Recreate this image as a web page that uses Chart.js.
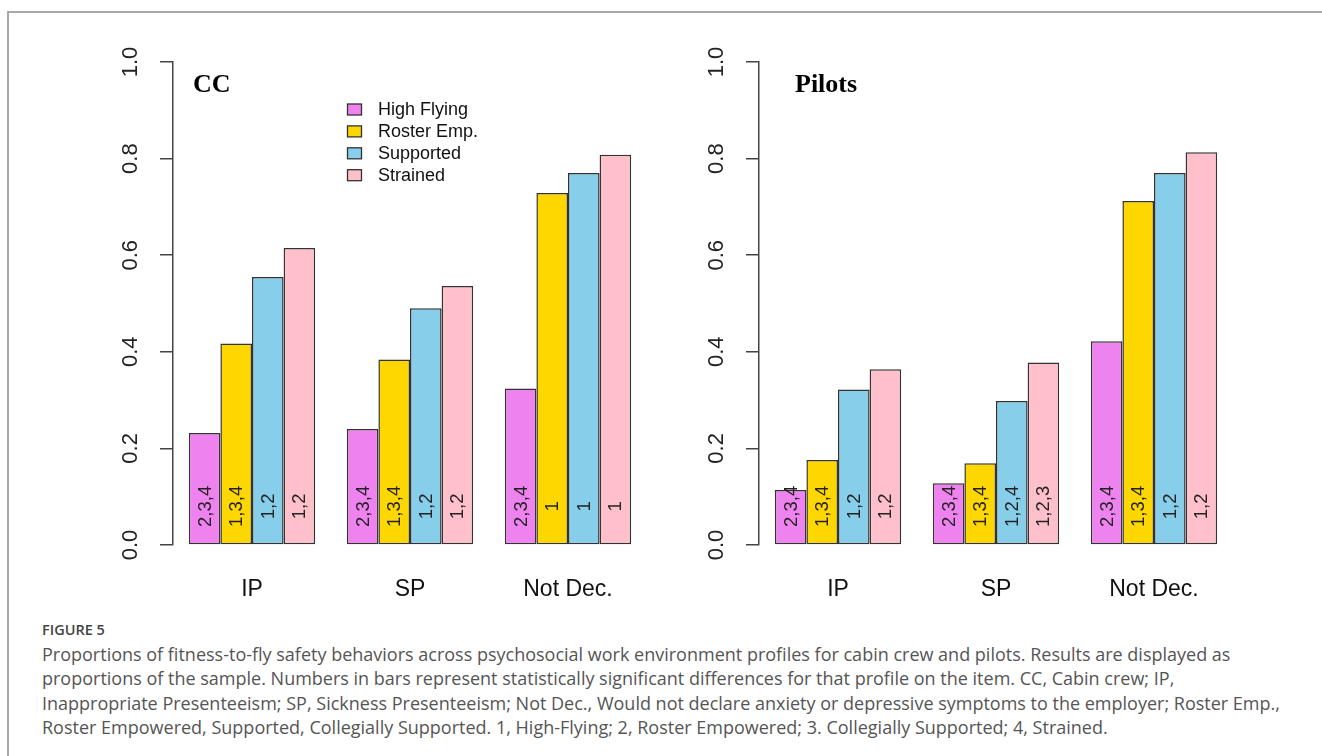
<!DOCTYPE html>
<html>
<head>
<meta charset="utf-8">
<script src="https://cdn.jsdelivr.net/npm/chart.js@4.4.1/dist/chart.umd.min.js"></script>
<style>
  html, body { margin: 0; padding: 0; background: #fff; width: 1322px; height: 756px; overflow: hidden; }
  #frame { position: absolute; left: 7px; top: 11px; width: 1400px; height: 800px;
           border-top: 2px solid #a8a8a8; border-left: 2px solid #a8a8a8; }
  .panel { position: absolute; top: 0; }
  #ccChart { left: 0; }
  #pilotChart { left: 586px; }
  #caption { position: absolute; left: 42px; top: 620px; font-family: "Open Sans", "Noto Sans", sans-serif;
             color: #555; white-space: nowrap; }
  #caption .fig { font-size: 14.5px; font-weight: 600; color: #444; line-height: 20px; margin-bottom: 2px; }
  #caption .line { font-size: 18px; line-height: 24.3px; }
</style>
</head>
<body>
<div id="frame"></div>
<canvas id="ccChart" class="panel" width="680" height="610"></canvas>
<canvas id="pilotChart" class="panel" width="680" height="610"></canvas>
<div id="caption">
  <div class="fig">FIGURE 5</div>
  <div class="line">Proportions of fitness-to-fly safety behaviors across psychosocial work environment profiles for cabin crew and pilots. Results are displayed as</div>
  <div class="line">proportions of the sample. Numbers in bars represent statistically significant differences for that profile on the item. CC, Cabin crew; IP,</div>
  <div class="line">Inappropriate Presenteeism; SP, Sickness Presenteeism; Not Dec., Would not declare anxiety or depressive symptoms to the employer; Roster Emp.,</div>
  <div class="line">Roster Empowered, Supported, Collegially Supported. 1, High-Flying; 2, Roster Empowered; 3. Collegially Supported; 4, Strained.</div>
</div>
<script>
// categories and profiles
var categories = ['IP', 'SP', 'Not Dec.'];
var profiles = ['High Flying', 'Roster Emp.', 'Supported', 'Strained'];
var profileColors = ['#EE82EE', '#FFD700', '#87CEEB', '#FFC0CB'];
var yTicks = [0, 0.2, 0.4, 0.6, 0.8, 1.0];

// cabin crew proportions
var ccHighFlying = [0.232, 0.240, 0.324];
var ccRosterEmp = [0.417, 0.384, 0.729];
var ccSupported = [0.555, 0.490, 0.770];
var ccStrained = [0.615, 0.536, 0.808];

// cabin crew significance labels
var ccHighFlyingSig = ['2,3,4', '2,3,4', '2,3,4'];
var ccRosterEmpSig = ['1,3,4', '1,3,4', '1'];
var ccSupportedSig = ['1,2', '1,2', '1'];
var ccStrainedSig = ['1,2', '1,2', '1'];

// pilots proportions
var plHighFlying = [0.114, 0.128, 0.422];
var plRosterEmp = [0.176, 0.169, 0.712];
var plSupported = [0.322, 0.298, 0.770];
var plStrained = [0.364, 0.378, 0.813];

// pilots significance labels
var plHighFlyingSig = ['2,3,4', '2,3,4', '2,3,4'];
var plRosterEmpSig = ['1,3,4', '1,3,4', '1,3,4'];
var plSupportedSig = ['1,2', '1,2,4', '1,2'];
var plStrainedSig = ['1,2', '1,2,3', '1,2'];

var SANS = "'Liberation Sans', Arial, sans-serif";

// numbers written inside the bars, rotated like R's srt=90
var barLabelPlugin = {
    id: 'barLabels',
    afterDatasetsDraw: function (chart) {
        var ctx = chart.ctx;
        var y = chart.scales.y.getPixelForValue(0.08);
        chart.data.datasets.forEach(function (ds, i) {
            chart.getDatasetMeta(i).data.forEach(function (bar, j) {
                ctx.save();
                ctx.translate(bar.x, y);
                ctx.rotate(-Math.PI / 2);
                ctx.font = '18.5px ' + SANS;
                ctx.fillStyle = '#222';
                ctx.textAlign = 'center';
                ctx.textBaseline = 'middle';
                ctx.fillText(ds.sig[j], 0, 1);
                ctx.restore();
            });
        });
    }
};

// panel title and the R-style legend
var panelDecor = {
    id: 'panelDecor',
    afterDraw: function (chart) {
        var o = chart.options.plugins.panelDecor;
        var ctx = chart.ctx;
        ctx.save();
        ctx.font = 'bold 26px "Liberation Serif", "Times New Roman", serif';
        ctx.fillStyle = '#000';
        ctx.textBaseline = 'alphabetic';
        ctx.fillText(o.title, o.titleX, 92);
        if (o.legend) {
            ctx.font = '18px ' + SANS;
            ctx.textBaseline = 'middle';
            chart.data.datasets.forEach(function (ds, i) {
                var cy = 109.5 + i * 21.9;
                ctx.fillStyle = ds.backgroundColor;
                ctx.fillRect(347.5, cy - 5.5, 14, 11);
                ctx.strokeStyle = '#333';
                ctx.lineWidth = 1.3;
                ctx.strokeRect(347.5, cy - 5.5, 14, 11);
                ctx.fillStyle = '#111';
                ctx.fillText(ds.label, 378, cy + 1);
            });
        }
        ctx.restore();
    }
};

function makePanel(canvasId, title, titleX, series, sigs, legend) {
    var datasets = profiles.map(function (name, i) {
        return {
            label: name,
            data: series[i],
            sig: sigs[i],
            backgroundColor: profileColors[i],
            borderColor: '#333',
            borderWidth: 1.5,
            borderSkipped: false,
            categoryPercentage: 0.8,
            barPercentage: 1.0
        };
    });

    return new Chart(document.getElementById(canvasId), {
        type: 'bar',
        data: { labels: categories, datasets: datasets },
        plugins: [barLabelPlugin, panelDecor],
        options: {
            responsive: false,
            animation: false,
            layout: { padding: { left: 103, top: 62, right: 680 - 647, bottom: 5 } },
            plugins: {
                legend: { display: false },
                tooltip: { enabled: false },
                panelDecor: { title: title, titleX: titleX, legend: legend }
            },
            scales: {
                x: {
                    grid: { display: false, drawTicks: false },
                    border: { display: false },
                    ticks: { color: '#111', font: { family: SANS, size: 23 }, padding: 31 },
                    afterFit: function (s) { s.height = 60; }
                },
                y: {
                    min: 0,
                    max: 1,
                    afterBuildTicks: function (s) {
                        s.ticks = yTicks.map(function (v) { return { value: v }; });
                    },
                    grid: { drawOnChartArea: false, drawTicks: true, tickLength: 13, color: '#444', lineWidth: 1.5 },
                    border: { display: true, color: '#444', width: 1.5 },
                    ticks: {
                        color: '#222',
                        font: { family: SANS, size: 22 },
                        minRotation: 90,
                        maxRotation: 90,
                        crossAlign: 'center',
                        padding: 14,
                        callback: function (v) { return Number(v).toFixed(1); }
                    },
                    afterFit: function (s) { s.width = 70; }
                }
            }
        }
    });
}

makePanel('ccChart', 'CC', 193,
    [ccHighFlying, ccRosterEmp, ccSupported, ccStrained],
    [ccHighFlyingSig, ccRosterEmpSig, ccSupportedSig, ccStrainedSig], true);

makePanel('pilotChart', 'Pilots', 209,
    [plHighFlying, plRosterEmp, plSupported, plStrained],
    [plHighFlyingSig, plRosterEmpSig, plSupportedSig, plStrainedSig], false);
</script>
</body>
</html>
